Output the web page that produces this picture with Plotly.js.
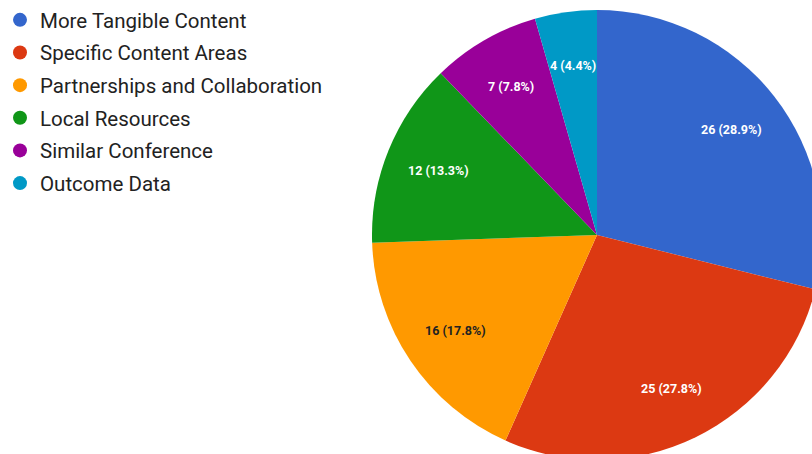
<!DOCTYPE html>
<html>
<head>
<meta charset="utf-8">
<script src="https://cdn.plot.ly/plotly-3.0.1.min.js"></script>
<style>
html,body{margin:0;padding:0;overflow:hidden;background:#fff;width:812px;height:454px;}
#chart{width:900px;height:520px;}
</style>
</head>
<body>
<div id="chart"></div>
<script>
const categories = ["More Tangible Content","Specific Content Areas","Partnerships and Collaboration","Local Resources","Similar Conference","Outcome Data"];
const values = [26, 25, 16, 12, 7, 4];
const colors = ["#3366cc","#dc3912","#ff9900","#109618","#990099","#0099c6"];
const labelColors = ["#ffffff","#ffffff","#222222","#ffffff","#ffffff","#ffffff"];

const W = 900, H = 520;
const dom = {x: [372 / W, 822 / W], y: [(H - 460) / H, (H - 10) / H]};

const pie = {
  type: 'pie',
  labels: categories,
  values: values,
  sort: false,
  direction: 'clockwise',
  rotation: 0,
  marker: {colors: colors, line: {width: 0}},
  textinfo: 'none',
  hoverinfo: 'label+value+percent',
  showlegend: false,
  automargin: false,
  domain: dom
};

const legendTraces = categories.map((c, i) => ({
  type: 'scatter',
  mode: 'markers',
  x: [null], y: [null],
  name: c,
  legendgroup: 'g' + i,
  marker: {color: colors[i], size: 14, symbol: 'circle'},
  hoverinfo: 'skip',
  showlegend: true
}));

// slice labels placed along each slice's mid-angle (derived from the values)
const total = values.reduce((a, b) => a + b, 0);
const cx = (dom.x[0] + dom.x[1]) / 2, cy = (dom.y[0] + dom.y[1]) / 2;
const rx = (dom.x[1] - dom.x[0]) / 2, ry = (dom.y[1] - dom.y[0]) / 2;
const k = 0.76;
let cum = 0;
const annotations = values.map((v, i) => {
  const mid = (cum + v / 2) / total;
  cum += v;
  const th = 2 * Math.PI * mid;
  return {
    xref: 'paper', yref: 'paper',
    x: cx + rx * k * Math.sin(th),
    y: cy + ry * k * Math.cos(th),
    text: v + ' (' + (v / total * 100).toFixed(1) + '%)',
    showarrow: false,
    xanchor: 'center', yanchor: 'middle',
    font: {family: 'Roboto, Arial, sans-serif', size: 12.5, color: labelColors[i], weight: 'bold'}
  };
});

const layout = {
  width: W, height: H,
  margin: {l: 0, r: 0, t: 0, b: 0, autoexpand: false},
  paper_bgcolor: '#ffffff',
  plot_bgcolor: '#ffffff',
  xaxis: {visible: false},
  yaxis: {visible: false},
  showlegend: true,
  annotations: annotations,
  legend: {
    xref: 'container', yref: 'container',
    x: 0, y: 1, xanchor: 'left', yanchor: 'top',
    traceorder: 'grouped',
    tracegroupgap: 3,
    itemwidth: 30,
    font: {family: 'Roboto, Arial, sans-serif', size: 20.5, color: '#222222'},
    bgcolor: 'rgba(0,0,0,0)'
  }
};

Plotly.newPlot('chart', [pie].concat(legendTraces), layout, {displayModeBar: false});
</script>
</body>
</html>
